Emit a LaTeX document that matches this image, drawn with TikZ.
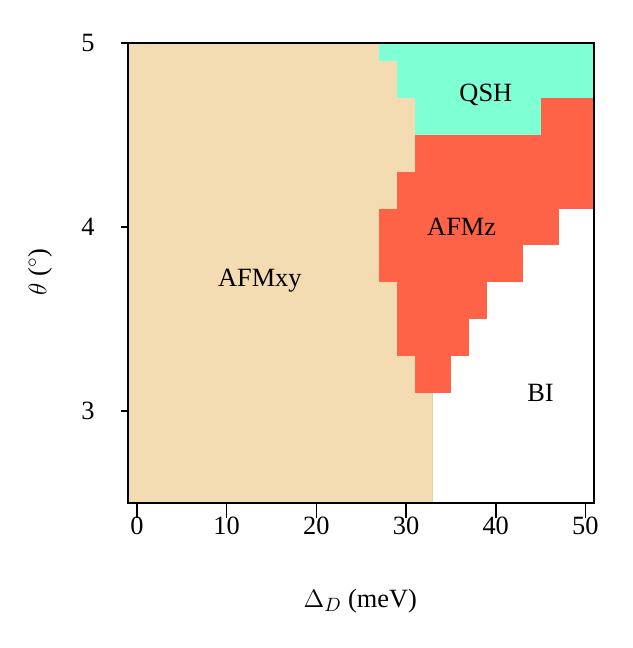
\documentclass[tikz,border=0pt]{standalone}
\usepackage{fontspec}
\setmainfont{Liberation Serif}
\begin{document}
\begin{tikzpicture}[x=0.1794cm,y=3.68cm,
  lbl/.style={font=\fontsize{15}{18}\selectfont},
  axis/.style={line width=1.1pt},
  tick/.style={line width=0.9pt}]
\definecolor{tanc}{HTML}{F3DCB2}
\definecolor{tealc}{HTML}{7FFFD4}
\definecolor{redc}{HTML}{FF6347}
\useasboundingbox (-15.27,1.712) rectangle (55.30,5.234);
\foreach \lo/\hi/\ta/\te/\re in {4.9/5.0/27/51/51,4.7/4.9/29/51/51,4.5/4.7/31/45/51,4.3/4.5/31/31/51,4.1/4.3/29/29/51,3.9/4.1/27/27/47,3.7/3.9/27/27/43,3.5/3.7/29/29/39,3.3/3.5/29/29/37,3.1/3.3/31/31/35,2.5/3.1/33/33/33}{
  \fill[tanc] (-1,\lo) rectangle (\ta,\hi);
  \fill[tealc] (\ta,\lo) rectangle (\te,\hi);
  \fill[redc] (\te,\lo) rectangle (\re,\hi);
}
\node[lbl] (qsh) at (38.9,4.72) {QSH};
\node[lbl] (afmz) at (36.2,4.0) {AFMz};
\node[lbl] (afmxy) at (13.7,3.71) {AFMxy};
\node[lbl] (bi) at (45,3.10) {BI};
\draw[axis] (-1,2.5) rectangle (51,5);
\foreach \v in {0,10,...,50}{
  \draw[tick] (\v,2.5) -- (\v,2.42);
  \node[lbl] (xt\v) at (\v,2.375) {\v};
}
\foreach \v in {3,4,5}{
  \draw[tick] (-1,\v) -- (-1.8,\v);
  \node[lbl] (yt\v) at (-5.46,\v) {\v};
}
\node[lbl] (xl) at (24.9,1.967) {$\Delta_D$ (meV)};
\node[lbl,rotate=90] (yl) at (-10.8,3.755) {$\theta$ ($^\circ$)};
\end{tikzpicture}
\end{document}
